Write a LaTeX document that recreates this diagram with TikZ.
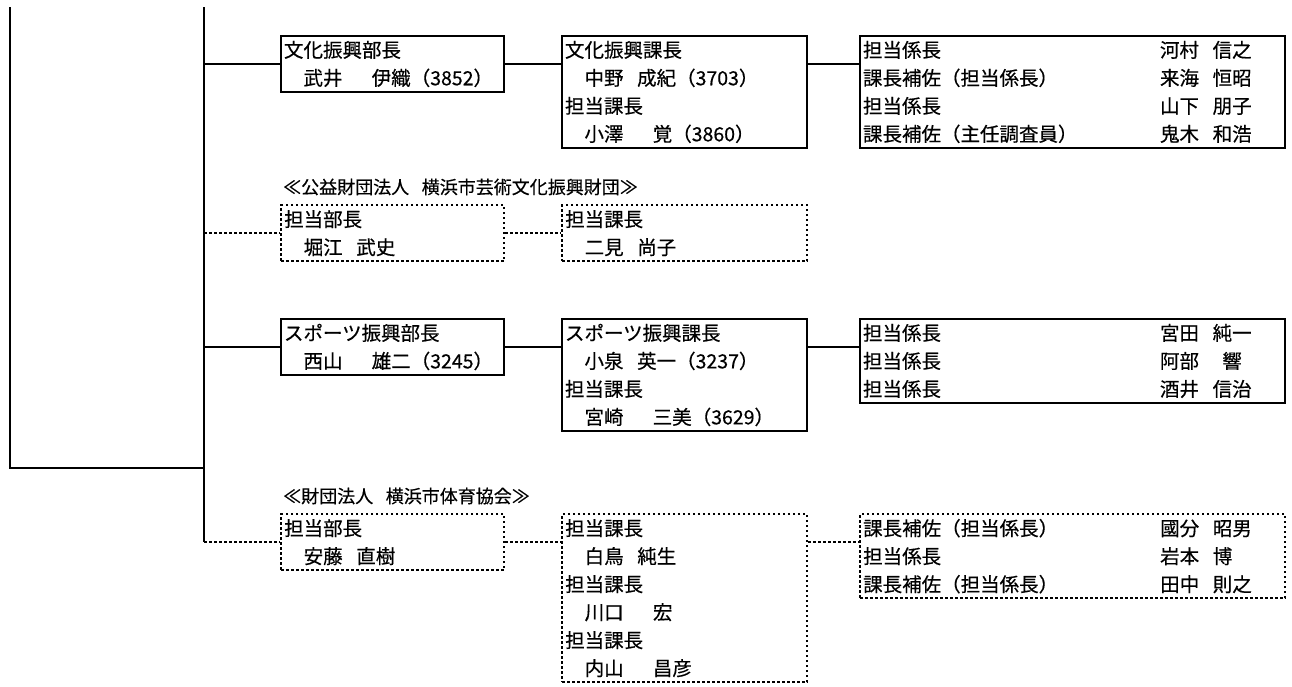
\documentclass[tikz,border=0pt]{standalone}
\usepackage{fontspec}
\setmainfont{Noto Sans CJK JP}[FakeBold=0.4]
\usetikzlibrary{positioning,calc}
\newcommand{\yaku}[2]{\makebox[297pt][l]{#1}#2}
\newcommand{\ma}{\hspace{0.7em}}
\newcommand{\mama}{\hspace{1.5em}}

\begin{document}
\begin{tikzpicture}[x=1pt, y=-1pt,
  post/.style = {draw, line width=2pt, inner xsep=3pt, inner ysep=0pt, anchor=north west, align=left, font=\fontsize{19.5}{28}\selectfont},
  gaibu/.style = {post, line width=2.4pt, dash pattern=on 2.6pt off 2.4pt},
  dantai/.style = {anchor=west, inner sep=0pt, font=\fontsize{18}{28}\selectfont},
  sen/.style = {line width=2pt},
  tensen/.style = {line width=2.4pt, dash pattern=on 2.6pt off 2.4pt}]
  \useasboundingbox (0,0) rectangle (1292,686);
  \coordinate (top1) at (10,7);
  \coordinate (top2) at (204,7);
  \coordinate (root) at (10,468);
  % 文化振興
  \node[post, text width=217pt, minimum height=56pt] (bu1) at (280,35) {文化振興部長\\　武井\mama 伊織（3852）};
  \node[post, text width=239pt, minimum height=112pt] (ka1) at (561,35) {文化振興課長\\　中野\ma 成紀（3703）\\担当課長\\　小澤\mama 覚（3860）};
  \node[post, text width=419pt, minimum height=112pt] (kk1) at (859,35) {\yaku{担当係長}{河村\ma 信之}\\\yaku{課長補佐（担当係長）}{来海\ma 恒昭}\\\yaku{担当係長}{山下\ma 朋子}\\\yaku{課長補佐（主任調査員）}{鬼木\ma 和浩}};
  % 芸術文化振興財団
  \node[dantai] (zd1) at (283,187) {≪公益財団法人\ma 横浜市芸術文化振興財団≫};
  \node[gaibu, text width=217pt, minimum height=56pt] (bu2) at (280,204) {担当部長\\　堀江\ma 武史};
  \node[gaibu, text width=239pt, minimum height=56pt] (ka2) at (561,204) {担当課長\\　二見\ma 尚子};
  % スポーツ振興
  \node[post, text width=217pt, minimum height=56pt] (bu3) at (280,318) {スポーツ振興部長\\　西山\mama 雄二（3245）};
  \node[post, text width=239pt, minimum height=112pt] (ka3) at (561,318) {スポーツ振興課長\\　小泉\ma 英一（3237）\\担当課長\\　宮崎\mama 三美（3629）};
  \node[post, text width=419pt, minimum height=84pt] (kk3) at (859,318) {\yaku{担当係長}{宮田\ma 純一}\\\yaku{担当係長}{阿部\hspace{1.2em}響}\\\yaku{担当係長}{酒井\ma 信治}};
  % 体育協会
  \node[dantai] (zd2) at (283,496) {≪財団法人\ma 横浜市体育協会≫};
  \node[gaibu, text width=217pt, minimum height=56pt] (bu4) at (280,513) {担当部長\\　安藤\ma 直樹};
  \node[gaibu, text width=239pt, minimum height=168pt] (ka4) at (561,513) {担当課長\\　白鳥\ma 純生\\担当課長\\　川口\mama 宏\\担当課長\\　内山\mama 昌彦};
  \node[gaibu, text width=419pt, minimum height=84pt] (kk4) at (859,513) {\yaku{課長補佐（担当係長）}{國分\ma 昭男}\\\yaku{担当係長}{岩本\ma 博}\\\yaku{課長補佐（担当係長）}{田中\ma 則之}};
  % 線
  \draw[sen] (top1) -- (root) -- (root -| top2);
  \draw[sen] (top2) -- (bu4.west -| top2);
  \draw[sen] (bu1.west -| top2) -- (bu1.west);
  \draw[sen] (bu1.east) -- (bu1.east -| ka1.west);
  \draw[sen] (bu1.east -| ka1.east) -- (bu1.east -| kk1.west);
  \draw[tensen] (bu2.west -| top2) -- (bu2.west);
  \draw[tensen] (bu2.east) -- (ka2.west);
  \draw[sen] (bu3.west -| top2) -- (bu3.west);
  \draw[sen] (bu3.east) -- (bu3.east -| ka3.west);
  \draw[sen] (bu3.east -| ka3.east) -- (bu3.east -| kk3.west);
  \draw[tensen] (bu4.west -| top2) -- (bu4.west);
  \draw[tensen] (bu4.east) -- (bu4.east -| ka4.west);
  \draw[tensen] (bu4.east -| ka4.east) -- (bu4.east -| kk4.west);
\end{tikzpicture}
\end{document}
